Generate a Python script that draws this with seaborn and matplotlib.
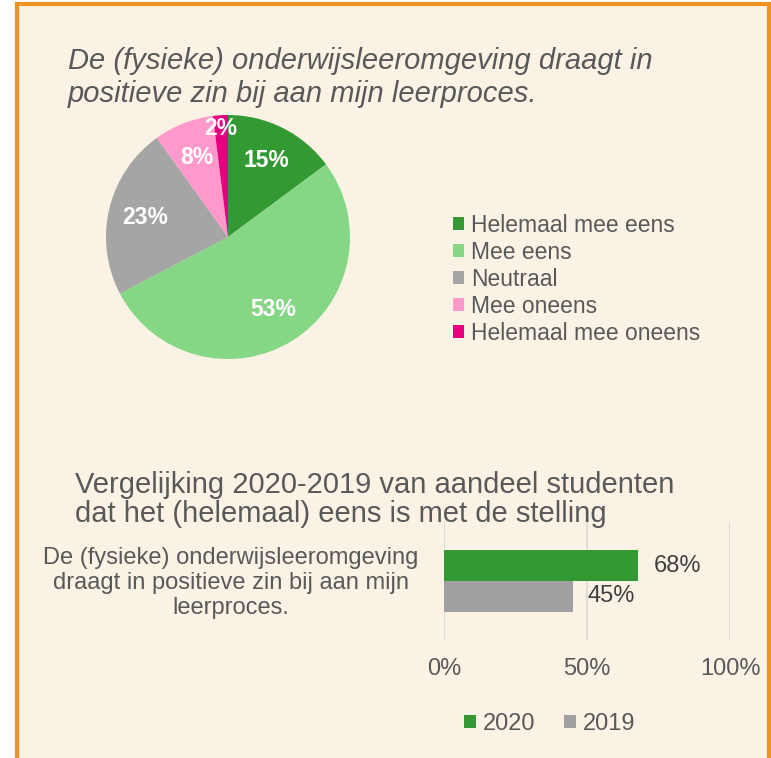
import matplotlib
matplotlib.use("Agg")
import matplotlib.pyplot as plt
from matplotlib.patches import Patch, Rectangle
import seaborn as sns
import pandas as pd

# ---- data ----
pie_categories = ["Helemaal mee eens", "Mee eens", "Neutraal", "Mee oneens", "Helemaal mee oneens"]
pie_values = [15, 53, 23, 8, 2]
pie_colors = ["#339933", "#85D685", "#A5A5A5", "#FF99CC", "#E6007E"]

bar_statement = "De (fysieke) onderwijsleeromgeving\ndraagt in positieve zin bij aan mijn\nleerproces."
bar_years = ["2020", "2019"]
bar_values = [68, 45]
bar_colors = ["#339933", "#A0A0A0"]
x_ticks = [0, 50, 100]
x_ticklabels = ["0%", "50%", "100%"]

pie_title = "De (fysieke) onderwijsleeromgeving draagt in\npositieve zin bij aan mijn leerproces."
bar_title = "Vergelijking 2020-2019 van aandeel studenten\ndat het (helemaal) eens is met de stelling"

BG = "#FBF2E6"
TXT = "#595959"
sns.set_theme(style="white")
plt.rcParams["font.family"] = ["Liberation Sans", "DejaVu Sans"]

W, H = 771, 758
fig = plt.figure(figsize=(W / 100, H / 100), dpi=100)
fig.patch.set_facecolor("white")

# panel background + orange border
fig.patches.append(Rectangle((16.5 / W, -0.05), (768.5 - 16.5) / W, 1.05 - 4.5 / H,
                             transform=fig.transFigure, facecolor=BG, edgecolor="#EE9221",
                             linewidth=3, zorder=-10))

# ---- pie ----
cx, cy, r = 228, 237, 122
axp = fig.add_axes([(cx - r) / W, 1 - (cy + r) / H, 2 * r / W, 2 * r / H])
axp.set_facecolor("none")
it = iter(pie_values)
wedges, texts, autotexts = axp.pie(pie_values, colors=pie_colors, startangle=90, counterclock=False,
                                   autopct=lambda p: f"{next(it)}%", pctdistance=0.7,
                                   wedgeprops=dict(linewidth=0),
                                   textprops=dict(color="white", fontsize=16.5, fontweight="bold"))
# push the smallest slice label outward
x, y = autotexts[-1].get_position()
autotexts[-1].set_position((x * 0.89 / 0.7, y * 0.89 / 0.7))
axp.set_xlim(-1, 1)
axp.set_ylim(-1, 1)
axp.set_aspect("equal")

fig.text(68 / W, 1 - 47 / H, pie_title, fontsize=21, style="italic", color=TXT,
         ha="left", va="top", linespacing=1.22)

handles = [Patch(facecolor=c, edgecolor="none") for c in pie_colors]
fig.legend(handles, pie_categories, loc="upper left", bbox_to_anchor=(453 / W, 1 - 214 / H),
           frameon=False, fontsize=16.5, labelcolor=TXT, handlelength=0.5, handleheight=0.5,
           handletextpad=0.3, labelspacing=0.17, borderaxespad=0, borderpad=0)

# ---- bar chart ----
axb = fig.add_axes([444 / W, 1 - 640 / H, (730 - 444) / W, (640 - 522) / H])
axb.set_facecolor("none")
df = pd.DataFrame({"stelling": [bar_statement] * len(bar_years), "jaar": bar_years, "aandeel": bar_values})
sns.barplot(data=df, y="stelling", x="aandeel", hue="jaar", palette=bar_colors, orient="h",
            width=0.525, ax=axb, legend=False, saturation=1, linewidth=0)
axb.set_xlim(0, 100)
axb.set_xticks(x_ticks)
axb.set_xticklabels(x_ticklabels, fontsize=17, color=TXT)
axb.tick_params(axis="x", length=0, pad=13)
axb.set_yticks([])
axb.set_xlabel("")
axb.set_ylabel("")
axb.grid(axis="x", color="#D9D9D9", linewidth=1.2)
axb.set_axisbelow(True)
for s in axb.spines.values():
    s.set_visible(False)
for cont, v in zip(axb.containers, bar_values):
    axb.bar_label(cont, labels=[f"{v}%"], padding=11, fontsize=17, color="#404040")

fig.text(75 / W, 1 - 471 / H, bar_title, fontsize=21, color=TXT,
         ha="left", va="top", linespacing=1.05)
fig.text(231 / W, 1 - 583 / H, bar_statement, fontsize=17, color=TXT,
         ha="center", va="center", multialignment="center", linespacing=1.15)

bhandles = [Patch(facecolor=c, edgecolor="none") for c in bar_colors]
fig.legend(bhandles, bar_years, loc="center", bbox_to_anchor=(550 / W, 1 - 724 / H), ncol=2,
           frameon=False, fontsize=17, labelcolor=TXT, handlelength=0.5,
           handleheight=0.5, handletextpad=0.3, columnspacing=1.2, borderaxespad=0)

fig.savefig("out.png", dpi=100, facecolor=fig.get_facecolor())
